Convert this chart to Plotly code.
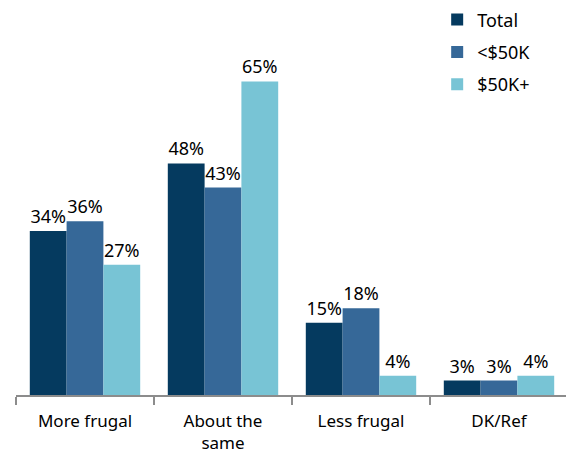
import plotly.graph_objects as go

categories = ["More frugal", "About the<br>same", "Less frugal", "DK/Ref"]
series_names = ["Total", "<$50K", "$50K+"]
total = [34, 48, 15, 3]
under50 = [36, 43, 18, 3]
over50 = [27, 65, 4, 4]
colors = ["#053A5F", "#366898", "#78C4D5"]

fig = go.Figure()
for name, vals, col in zip(series_names, [total, under50, over50], colors):
    fig.add_trace(go.Bar(
        x=categories, y=vals, name=name, marker_color=col,
        marker_line_width=0,
        text=[f"{v}%" for v in vals], textposition="outside",
        textfont=dict(size=18, color="#000000"), cliponaxis=False,
        legendgroup=name,
    ))

fig.update_layout(
    barmode="group", bargap=0.2, bargroupgap=0,
    width=566, height=451,
    margin=dict(l=8, r=6, t=1, b=64, autoexpand=False),
    plot_bgcolor="white", paper_bgcolor="white",
    font=dict(family="Noto Sans, sans-serif", size=17, color="#000000"),
    showlegend=True,
    legend=dict(x=0.763, y=1.02, xanchor="left", yanchor="top",
                font=dict(size=18), tracegroupgap=6, bgcolor="rgba(0,0,0,0)"),
)
fig.update_yaxes(range=[0, 80], visible=False)
fig.update_xaxes(showline=True, linecolor="#8C8C8C", linewidth=1.5,
                 ticks="outside", tickson="boundaries", ticklen=8,
                 tickcolor="#8C8C8C", tickwidth=1.5,
                 tickfont=dict(size=17), ticklabelstandoff=10, automargin=False)
fig.write_html("out.html")
